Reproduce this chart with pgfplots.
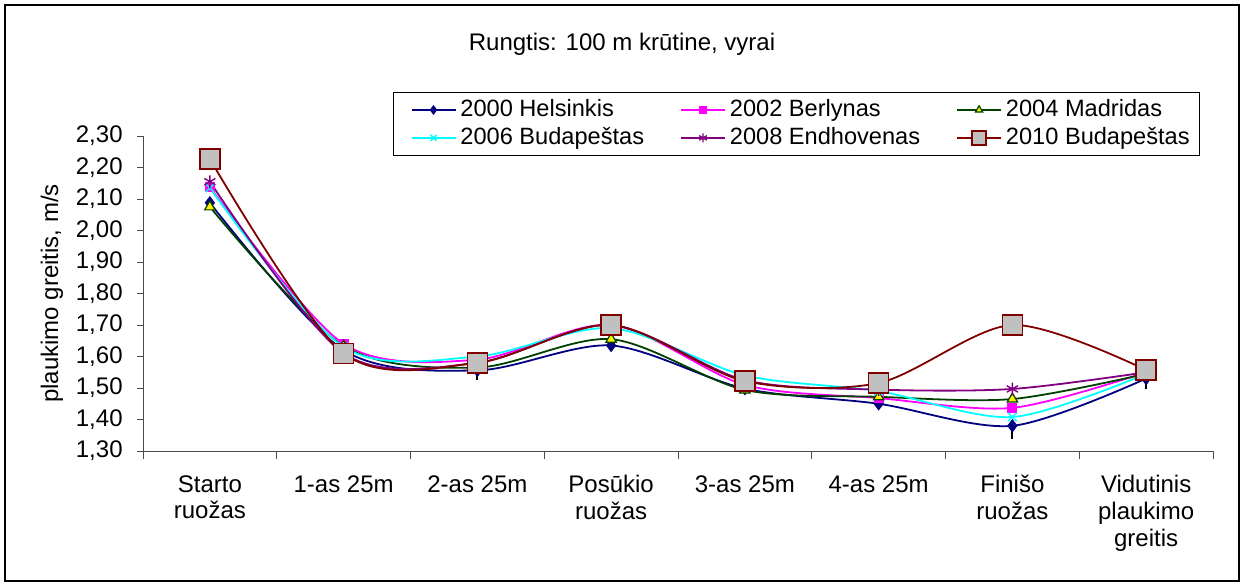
\documentclass[border=0pt]{standalone}
\usepackage{fontspec}
\setmainfont{Liberation Sans}
\usepackage{pgfplots}
\pgfplotsset{compat=1.18}
\definecolor{cA}{RGB}{0,0,128}
\definecolor{cB}{RGB}{255,0,255}
\definecolor{cC}{RGB}{0,64,0}
\definecolor{cD}{RGB}{0,255,255}
\definecolor{cE}{RGB}{128,0,128}
\definecolor{cF}{RGB}{128,0,0}
\definecolor{cGray}{RGB}{192,192,192}
\begin{document}
\fontsize{12}{13.4}\selectfont
\begin{tikzpicture}
\path[use as bounding box] (0,0) rectangle (622.5pt,293pt);
\draw[black, line width=0.6pt] (2.5pt,2.5pt) rectangle (619.5pt,290.5pt);
\node[font=\fontsize{12}{13.4}\selectfont] at (311pt,271pt) {Rungtis: 100 m krūtine, vyrai};
\begin{axis}[
  at={(71.5pt,67.5pt)}, anchor=south west,
  scale only axis, width=535pt, height=157.5pt,
  xmin=-0.5, xmax=7.5, ymin=1.3, ymax=2.3,
  axis x line=bottom, axis y line=left,
  axis line style={-, line width=0.5pt, black!70},
  tick align=outside,
  xtick={0,...,7},
  xticklabels={{Starto\\ruožas},{1-as 25m},{2-as 25m},{Posūkio\\ruožas},{3-as 25m},{4-as 25m},{Finišo\\ruožas},{Vidutinis\\plaukimo\\greitis}},
  xticklabel style={align=center, font=\fontsize{12}{13.3}\selectfont, yshift=-5pt},
  major x tick style={draw=none},
  minor xtick={-0.5,0.5,...,7.5},
  minor tick length=4pt,
  minor x tick style={black!70, line width=0.5pt},
  ytick={1.3,1.4,...,2.31},
  major tick length=3pt,
  y tick style={black!70, line width=0.5pt},
  yticklabel style={/pgf/number format/fixed, /pgf/number format/fixed zerofill, /pgf/number format/precision=2, /pgf/number format/use comma, /pgf/number format/assume math mode=true},
  yticklabel style={xshift=-3pt, font=\fontsize{12}{13.4}\selectfont},
  ylabel={plaukimo greitis, m/s},
  every axis y label/.style={at={(axis description cs:-0.085,0.5)}, rotate=90, anchor=center, font=\fontsize{12}{13.4}\selectfont},
  legend columns=3,
  legend cell align=left,
  legend style={at={(rel axis cs:0.23364,1.1397)}, anchor=north west, draw=black, line width=0.6pt, fill=white,
    font=\fontsize{11.8}{13}\selectfont, inner xsep=3pt, inner ysep=2.5pt, row sep=1.6pt,
    nodes={inner ysep=1pt},
    /tikz/every even column/.append style={column sep=10.5pt}},
  legend image code/.code={\path (0pt,0pt) (27.5pt,0pt);\draw[mark repeat=2,mark phase=2,#1,every mark/.append style={scale=0.7}] plot coordinates {(5.5pt,0pt) (16.5pt,0pt) (27.5pt,0pt)};},
  every axis plot/.append style={smooth, tension=0.5, line width=0.9pt},
]
\addplot[color=cA, mark=diamond*, mark size=3pt, mark options={fill=cA, draw=cA, line width=0.5pt}] coordinates {
(0,2.088) (1,1.62) (2,1.556) (3,1.635) (4,1.498) (5,1.45) (6,1.38) (7,1.53)};
\addlegendentry{2000 Helsinkis}
\addplot[color=cB, mark=square*, mark size=2.2pt, mark options={fill=cB, draw=cB, line width=0.5pt}] coordinates {
(0,2.138) (1,1.64) (2,1.59) (3,1.70) (4,1.51) (5,1.468) (6,1.437) (7,1.55)};
\addlegendentry{2002 Berlynas}
\addplot[color=cC, mark=triangle*, mark size=3pt, mark options={fill=yellow, draw=cC, line width=0.6pt}] coordinates {
(0,2.075) (1,1.633) (2,1.565) (3,1.655) (4,1.494) (5,1.472) (6,1.465) (7,1.545)};
\addlegendentry{2004 Madridas}
\addplot[color=cD, mark=x, mark size=3pt, mark options={draw=cD, line width=0.7pt}] coordinates {
(0,2.135) (1,1.63) (2,1.60) (3,1.69) (4,1.54) (5,1.49) (6,1.408) (7,1.545)};
\addlegendentry{2006 Budapeštas}
\addplot[color=cE, mark=asterisk, mark size=3.2pt, mark options={draw=cE, line width=0.7pt}] coordinates {
(0,2.155) (1,1.61) (2,1.58) (3,1.70) (4,1.525) (5,1.495) (6,1.497) (7,1.55)};
\addlegendentry{2008 Endhovenas}
\addplot[color=cF, mark=square*, mark size=5pt, mark options={fill=cGray, draw=cF, line width=0.8pt}] coordinates {
(0,2.227) (1,1.61) (2,1.58) (3,1.70) (4,1.522) (5,1.516) (6,1.70) (7,1.557)};
\addlegendentry{2010 Budapeštas}
\addplot[draw=none, mark=none, forget plot, error bars/.cd, y dir=minus, y explicit, error mark=-,
  error bar style={black, line width=0.8pt}, error mark options={black, mark size=3pt, line width=1pt}]
  coordinates {(2,1.556) -= (0,0.012) (6,1.38) -= (0,0.022) (7,1.53) -= (0,0.013)};
\end{axis}
\end{tikzpicture}
\end{document}
